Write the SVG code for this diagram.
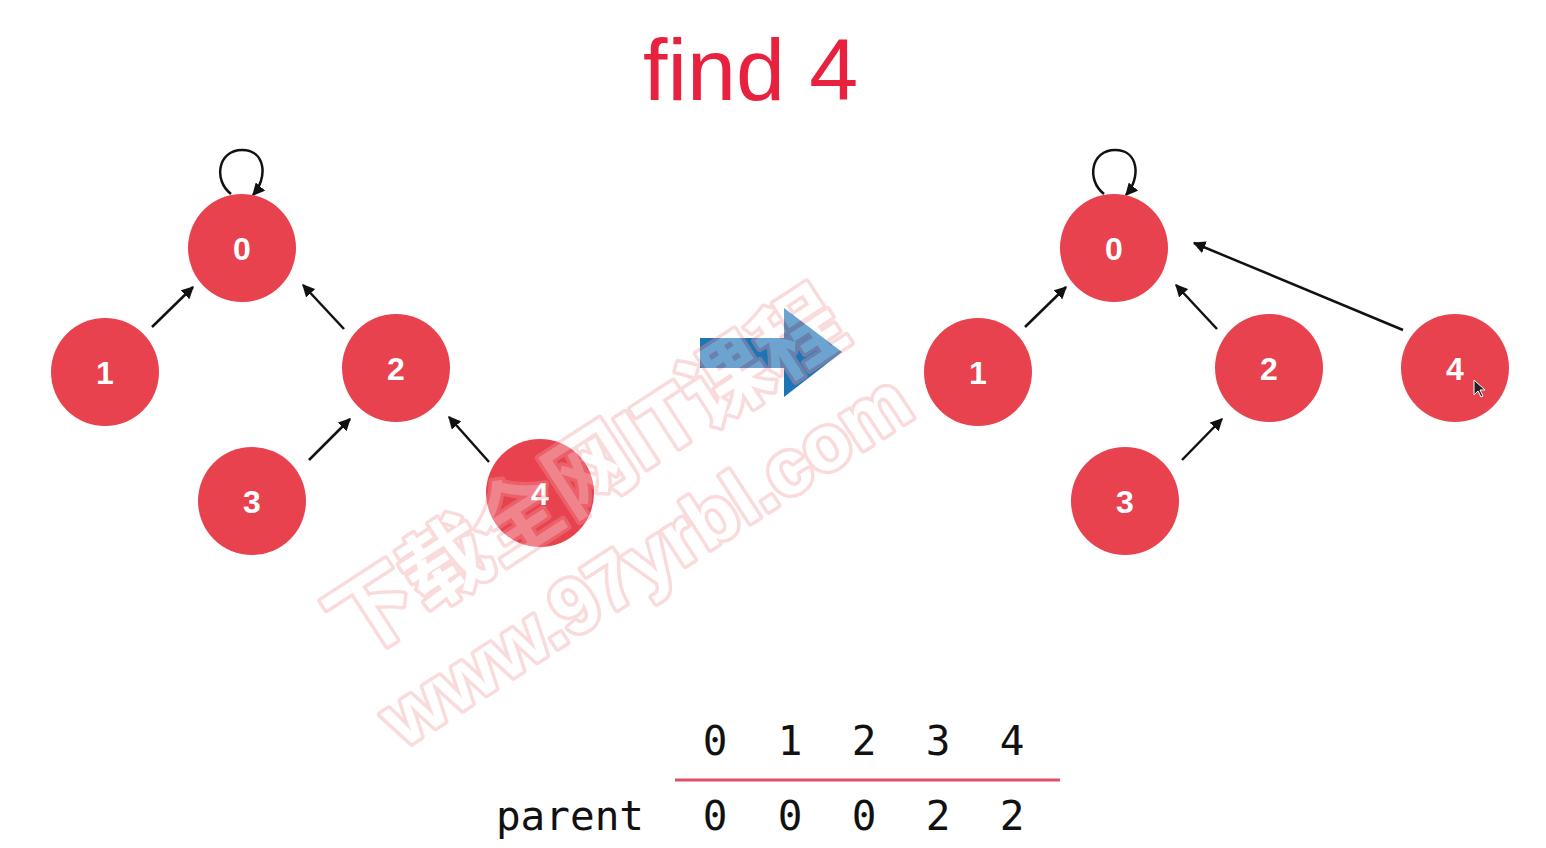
<svg xmlns="http://www.w3.org/2000/svg" width="1546" height="848" viewBox="0 0 1546 848">
<style>
.node{fill:#e8424f}
.lbl{fill:#fff;font-family:"Liberation Sans",Arial,sans-serif;font-weight:bold;font-size:32px;text-anchor:middle}
.edge{stroke:#111;stroke-width:2.5;fill:none;marker-end:url(#ah)}
.mono{font-family:"DejaVu Sans Mono","Liberation Mono",monospace;font-size:41px;fill:#111;text-anchor:middle}
.wm{font-family:"Liberation Sans","Noto Sans CJK SC",sans-serif;font-weight:bold;fill:#fff;stroke:#f29a9a;stroke-width:7;paint-order:stroke;stroke-linejoin:round;opacity:0.35}
</style>
<defs>
<marker id="ah" viewBox="0 0 10 10" refX="9" refY="5" markerWidth="5" markerHeight="5" orient="auto" markerUnits="strokeWidth">
<path d="M0,0 L10,5 L0,10 z" fill="#111"/>
</marker>
</defs>
<rect width="1546" height="848" fill="#fff"/>
<text x="643" y="100" font-family="Liberation Sans,Arial,sans-serif" font-size="88" fill="#e8213f">find 4</text>

<g id="connectors">
<path class="edge" d="M231,194 C213,180 218,150 242,150 C266,150 268,178 253,195"/>
<line class="edge" x1="152" y1="327" x2="193" y2="287"/>
<line class="edge" x1="344" y1="329" x2="303" y2="285"/>
<line class="edge" x1="309" y1="460" x2="350" y2="419"/>
<line class="edge" x1="489" y1="462" x2="449" y2="417"/>
<path class="edge" d="M1104,194 C1086,180 1091,150 1115,150 C1139,150 1141,178 1126,195"/>
<line class="edge" x1="1025" y1="327" x2="1066" y2="287"/>
<line class="edge" x1="1217" y1="329" x2="1176" y2="285"/>
<line class="edge" x1="1182" y1="460" x2="1222" y2="419"/>
<line class="edge" x1="1403" y1="330" x2="1194" y2="243"/>
</g>

<g id="L0"><circle class="node" cx="242" cy="248" r="54"/><text class="lbl" x="242" y="260">0</text></g>
<g id="L1"><circle class="node" cx="105" cy="372" r="54"/><text class="lbl" x="105" y="384">1</text></g>
<g id="L2"><circle class="node" cx="396" cy="368" r="54"/><text class="lbl" x="396" y="380">2</text></g>
<g id="L3"><circle class="node" cx="252" cy="501" r="54"/><text class="lbl" x="252" y="513">3</text></g>
<g id="L4"><circle class="node" cx="540" cy="493" r="54"/><text class="lbl" x="540" y="505">4</text></g>

<g id="R0"><circle class="node" cx="1114" cy="248" r="54"/><text class="lbl" x="1114" y="260">0</text></g>
<g id="R1"><circle class="node" cx="978" cy="372" r="54"/><text class="lbl" x="978" y="384">1</text></g>
<g id="R2"><circle class="node" cx="1269" cy="368" r="54"/><text class="lbl" x="1269" y="380">2</text></g>
<g id="R3"><circle class="node" cx="1125" cy="501" r="54"/><text class="lbl" x="1125" y="513">3</text></g>
<g id="R4"><circle class="node" cx="1455" cy="368" r="54"/><text class="lbl" x="1455" y="380">4</text></g>

<g id="cursor"><path d="M1474,380 L1474,395 L1478,391 L1481,397 L1483,396 L1480,390 L1485,390 z" fill="#222" stroke="#fff" stroke-width="1"/></g>

<g id="bigarrow" fill="#1f74b6">
<rect x="700" y="338" width="85" height="30"/>
<polygon points="784,308 842,352 784,397"/>
</g>

<g id="table">
<text class="mono" x="715" y="755">0</text>
<text class="mono" x="790" y="755">1</text>
<text class="mono" x="864" y="755">2</text>
<text class="mono" x="938" y="755">3</text>
<text class="mono" x="1012" y="755">4</text>
<line x1="675" y1="780" x2="1060" y2="780" stroke="#de5068" stroke-width="3"/>
<text class="mono" x="570" y="830">parent</text>
<text class="mono" x="715" y="830">0</text>
<text class="mono" x="790" y="830">0</text>
<text class="mono" x="864" y="830">0</text>
<text class="mono" x="938" y="830">2</text>
<text class="mono" x="1012" y="830">2</text>
</g>

<g id="watermark">
<text class="wm" font-size="86" text-anchor="middle" transform="translate(602,498) rotate(-33)">下载全网IT课程</text>
<text class="wm" font-size="78" text-anchor="middle" transform="translate(660,582) rotate(-33)">www.97yrbl.com</text>
</g>
</svg>
